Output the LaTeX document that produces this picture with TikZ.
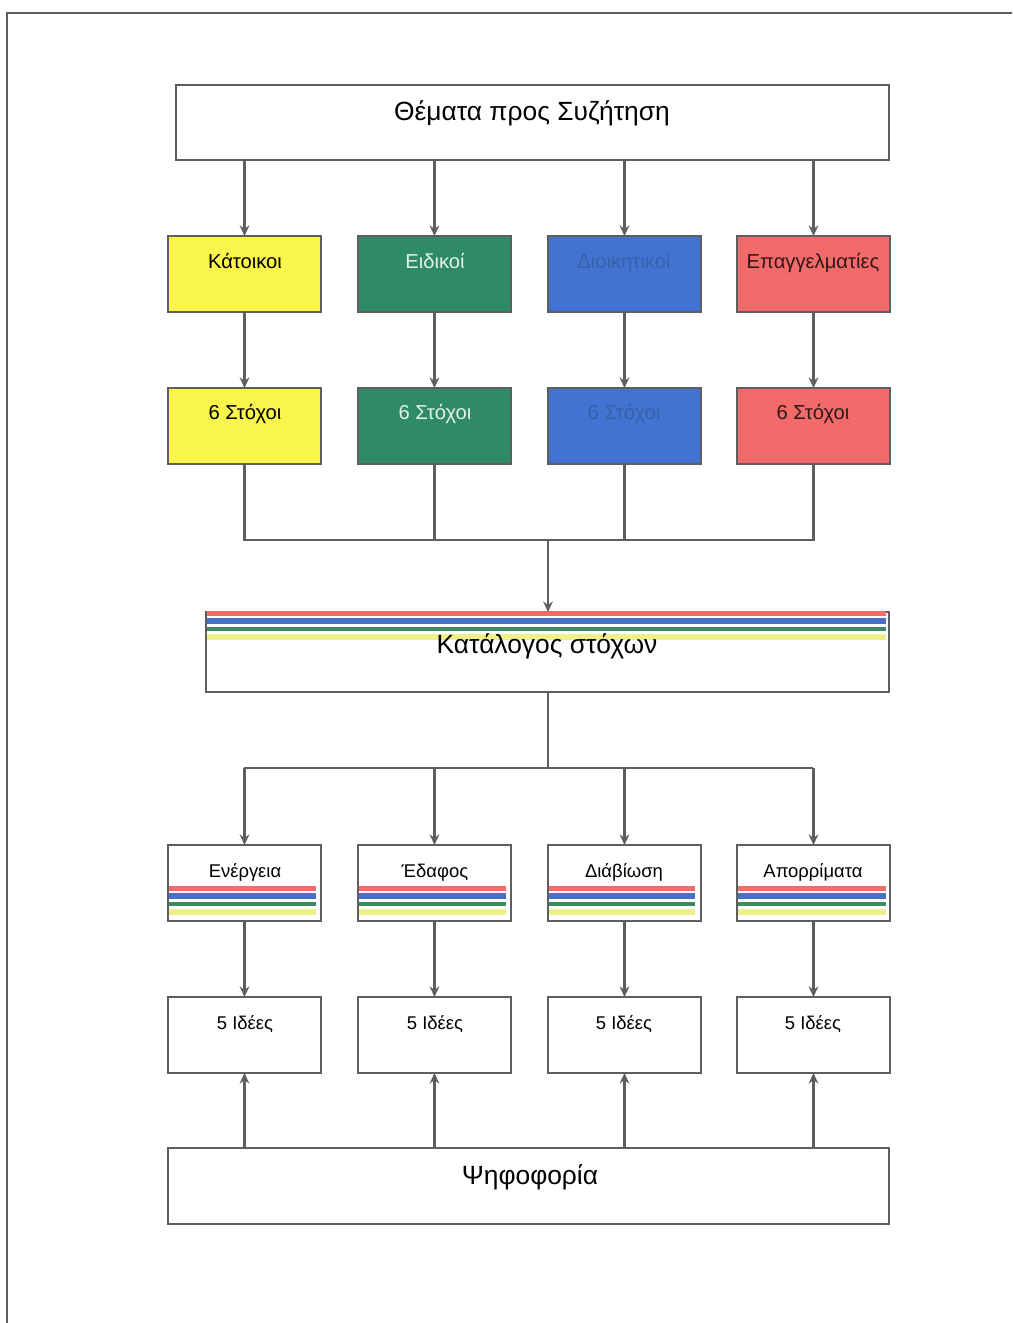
\documentclass[tikz,border=0pt]{standalone}
\usepackage{fontspec}
\setmainfont{Liberation Sans}
\usetikzlibrary{arrows.meta}

\definecolor{linegray}{HTML}{5E5E5E}
\definecolor{boxyellow}{HTML}{FAF54C}
\definecolor{boxgreen}{HTML}{2F8A66}
\definecolor{boxblue}{HTML}{4272D2}
\definecolor{boxred}{HTML}{F26A6A}
\definecolor{paleyellow}{HTML}{EEF08A}
\definecolor{stripeblue}{HTML}{4A6FC8}
\definecolor{stripegreen}{HTML}{3A8A62}
\definecolor{greentext}{HTML}{E2F2EA}
\definecolor{bluetext}{HTML}{3562A8}
\definecolor{redtext}{HTML}{301818}

\tikzset{
  conn/.style={draw=linegray, line width=1.4pt},
  arr/.style={conn, -{Stealth[length=6pt,width=5.5pt]}},
  box/.style={draw=linegray, line width=1.4pt, rectangle, anchor=north west,
              inner sep=0pt, outer sep=0pt},
  small/.style={box, minimum width=3.06cm, minimum height=1.52cm},
  wide/.style={box, minimum height=1.52cm},
  lbl/.style={inner sep=0pt, anchor=base},
  stripe/.style={line width=#1, line cap=butt},
}

% Four coloured stripes drawn across a box, between x-positions #1 and #2, with top at #3
\newcommand{\colorstripes}[3]{%
  \draw[boxred, stripe=2.4pt] (#1,#3+2.5) -- (#2,#3+2.5);
  \draw[stripeblue, stripe=2.9pt] (#1,#3+10) -- (#2,#3+10);
  \draw[stripegreen, stripe=2.8pt] (#1,#3+18) -- (#2,#3+18);
  \draw[paleyellow, stripe=3.8pt] (#1,#3+26) -- (#2,#3+26);
}

\begin{document}
\begin{tikzpicture}[x=0.02cm, y=-0.02cm]
\useasboundingbox (0,0) rectangle (1012,1323);
\fill[white] (0,0) rectangle (1012,1323);

% page frame (top and left edges)
\draw[linegray, line width=1.2pt] (7,1323) -- (7,13) -- (1012,13);

% title
\node[wide, minimum width=14.26cm, minimum height=1.5cm] (topic) at (176,85) {};
\node[lbl, font=\fontsize{15}{18}\selectfont] (topictxt) at (532,120) {Θέματα προς Συζήτηση};

% stakeholder groups
\node[small, fill=boxyellow] (g1) at (168,236) {};
\node[small, fill=boxgreen]  (g2) at (358,236) {};
\node[small, fill=boxblue]   (g3) at (548,236) {};
\node[small, fill=boxred]    (g4) at (737,236) {};
\node[lbl, font=\fontsize{11.5}{14}\selectfont] (g1t) at (245,268) {Κάτοικοι};
\node[lbl, font=\fontsize{11.5}{14}\selectfont, text=greentext] (g2t) at (435,268) {Ειδικοί};
\node[lbl, font=\fontsize{11.5}{14}\selectfont, text=bluetext] (g3t) at (624,268) {Διοικητικοί};
\node[lbl, font=\fontsize{11.5}{14}\selectfont, text=redtext] (g4t) at (813,268) {Επαγγελματίες};

% goals per group
\node[small, fill=boxyellow] (s1) at (168,388) {};
\node[small, fill=boxgreen]  (s2) at (358,388) {};
\node[small, fill=boxblue]   (s3) at (548,388) {};
\node[small, fill=boxred]    (s4) at (737,388) {};
\node[lbl, font=\fontsize{11.5}{14}\selectfont] (s1t) at (245,419) {6 Στόχοι};
\node[lbl, font=\fontsize{11.5}{14}\selectfont, text=greentext] (s2t) at (435,419) {6 Στόχοι};
\node[lbl, font=\fontsize{11.5}{14}\selectfont, text=bluetext] (s3t) at (624,419) {6 Στόχοι};
\node[lbl, font=\fontsize{11.5}{14}\selectfont, text=redtext] (s4t) at (813,419) {6 Στόχοι};

% goal catalogue
\node[wide, minimum width=13.66cm, minimum height=1.6cm] (cat) at (206,612) {};
\colorstripes{207}{886}{611}
\node[lbl, font=\fontsize{15}{18}\selectfont] (catt) at (547,653) {Κατάλογος στόχων};

% themes
\node[small] (e1) at (168,845) {};
\node[small] (e2) at (358,845) {};
\node[small] (e3) at (548,845) {};
\node[small] (e4) at (737,845) {};
\colorstripes{169}{316}{886}
\colorstripes{359}{506}{886}
\colorstripes{549}{695}{886}
\colorstripes{738}{886}{886}
\node[lbl, font=\fontsize{10.5}{13}\selectfont] (e1t) at (245,877) {Ενέργεια};
\node[lbl, font=\fontsize{10.5}{13}\selectfont] (e2t) at (435,877) {Έδαφος};
\node[lbl, font=\fontsize{10.5}{13}\selectfont] (e3t) at (624,877) {Διάβίωση};
\node[lbl, font=\fontsize{10.5}{13}\selectfont] (e4t) at (813,877) {Απορρίματα};

% ideas
\node[small] (i1) at (168,997) {};
\node[small] (i2) at (358,997) {};
\node[small] (i3) at (548,997) {};
\node[small] (i4) at (737,997) {};
\node[lbl, font=\fontsize{10.5}{13}\selectfont] (i1t) at (245,1029) {5 Ιδέες};
\node[lbl, font=\fontsize{10.5}{13}\selectfont] (i2t) at (435,1029) {5 Ιδέες};
\node[lbl, font=\fontsize{10.5}{13}\selectfont] (i3t) at (624,1029) {5 Ιδέες};
\node[lbl, font=\fontsize{10.5}{13}\selectfont] (i4t) at (813,1029) {5 Ιδέες};

% vote
\node[wide, minimum width=14.42cm] (vote) at (168,1148) {};
\node[lbl, font=\fontsize{15}{18}\selectfont] (votet) at (530,1184) {Ψηφοφορία};

% connectors: topics to groups to goals
\foreach \k in {1,2,3,4} {
  \draw[arr] (topic.south -| g\k.north) -- (g\k.north);
  \draw[arr] (g\k.south) -- (s\k.north);
}

% goals gathered into the catalogue
\coordinate (bus) at (548,540);
\draw[conn] (s1.south) -- (s1.south |- bus) -- (s4.south |- bus) -- (s4.south);
\draw[conn] (s2.south) -- (s2.south |- bus);
\draw[conn] (s3.south) -- (s3.south |- bus);
\draw[arr] (bus) -- (bus |- cat.north);

% catalogue split into themes
\coordinate (split) at (548,768);
\draw[conn] (split |- cat.south) -- (split);
\draw[conn] (e1.north |- split) -- (e4.north |- split);
\foreach \k in {1,2,3,4} {
  \draw[arr] (e\k.north |- split) -- (e\k.north);
  \draw[arr] (e\k.south) -- (i\k.north);
  \draw[arr] (vote.north -| i\k.south) -- (i\k.south);
}
\end{tikzpicture}
\end{document}
